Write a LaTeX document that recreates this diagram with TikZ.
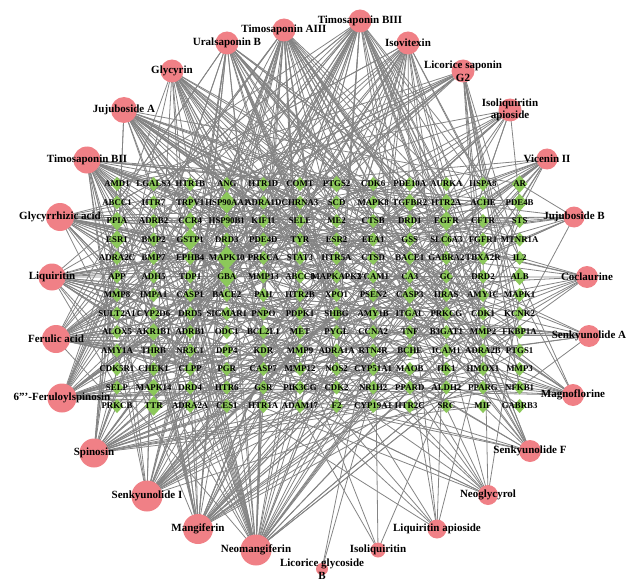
\documentclass[tikz,border=0pt]{standalone}
\usepackage{fontspec}
\setmainfont{Liberation Serif}
\usetikzlibrary{shapes.geometric}
\pgfdeclarelayer{bg}
\pgfdeclarelayer{fg}
\pgfsetlayers{bg,main,fg}
\definecolor{edgegray}{RGB}{132,132,132}
\definecolor{cpink}{RGB}{240,128,134}
\definecolor{tgreen}{RGB}{140,200,90}
\begin{document}
\begin{tikzpicture}[x=1pt,y=-1pt,
  target/.style={diamond, fill=tgreen, draw=none, inner sep=0pt, minimum width=#1, minimum height=#1*1.1},
  target/.default=13pt,
  tlabel/.style={font=\bfseries\fontsize{8.8}{9}\selectfont, text=black, inner sep=0pt},
  compound/.style={circle, fill=cpink, draw=none, inner sep=0pt, minimum size=#1},
  clabel/.style={font=\bfseries\fontsize{11}{12.5}\selectfont, text=black, align=center, inner sep=0pt},
  edge/.style={draw=edgegray, line width=0.8pt}]
\useasboundingbox (0,0) rectangle (637,583);
% targets
\foreach \row [count=\r] in {
 {AMD1,LGALS3,HTR1B,ANG,HTR1D,COMT,PTGS2,CDK6,PDE10A,AURKA,HSPA8,AR},
 {ABCC1,HTR7,TRPV1,HSP90AA1,ADRA1D,CHRNA3,SCD,MAPK8,TGFBR2,HTR2A,ACHE,PDE4B},
 {PPIA,ADRB2,CCR4,HSP90B1,KIF11,SELE,ME2,CTSB,DRD1,EGFR,CFTR,STS},
 {ESR1,BMP2,GSTP1,DRD3,PDE4D,TYR,ESR2,EEA1,GSS,SLC6A3,FGFR1,MTNR1A},
 {ADRA2C,BMP7,EPHB4,MAPK10,PRKCA,STAT3,HTR5A,CTSD,BACE1,GABRA2,TBXA2R,IL2},
 {APP,ADH5,TDP1,GBA,MMP13,ABCC8,MAPKAPK2,VCAM1,CA3,GC,DRD2,ALB},
 {MMP8,IMPA1,CASP1,BACE2,PAH,HTR2B,XPO1,PSEN2,CASP3,HRAS,AMY1C,MAPK1},
 {SULT2A1,CYP2D6,DRD5,SIGMAR1,PNPO,PDPK1,SHBG,AMY1B,ITGAL,PRKCG,CDK1,KCNK2},
 {ALOX5,AKR1B1,ADRB1,ODC1,BCL2L1,MET,PYGL,CCNA2,TNF,B3GAT1,MMP2,FKBP1A},
 {AMY1A,THRB,NR3C1,DPP4,KDR,MMP9,ADRA1A,RTN4R,BCHE,ICAM1,ADRA2B,PTGS1},
 {CDK5R1,CHEK1,CLPP,PGR,CASP7,MMP12,NOS2,CYP51A1,MAOB,HK1,HMOX1,MMP3},
 {SELP,MAPK14,DRD4,HTR6,GSR,PIK3CG,CDK2,NR1H2,PPARD,ALDH2,PPARG,NFKB1},
 {PRKCB,TTR,ADRA2A,CES1,HTR1A,ADAM17,F2,CYP19A1,HTR2C,SRC,MIF,GABRB3}} {
  \foreach \g [count=\c] in \row {
    \pgfmathtruncatemacro{\n}{(\r-1)*12+\c}
    \node[target, alias=t\n] (\g) at ({117+(\c-1)*36.6},{184+(\r-1)*18.5}) {};
    \begin{pgfonlayer}{fg}
      \node[tlabel] (l\g) at (\g) {\g};
    \end{pgfonlayer}
  }
}
% larger targets
\foreach \g/\s in {HSP90AA1/20pt,GSTP1/20pt,MAPK10/22pt,GBA/20pt,ESR1/17pt,PPIA/17pt,TTR/18pt,EGFR/18pt,PDE4B/16pt,HTR2A/16pt,AR/16pt,MAPK14/16pt,AKR1B1/16pt,CASP3/16pt,ALB/16pt,CCR4/16pt,TGFBR2/16pt,PTGS2/15pt} {
  \node[target=\s] (big\g) at (\g) {};
}
% compounds
\foreach \i/\x/\y/\s/\txt in {
 1/360/21/23/{Timosaponin BIII},
 2/284/30/23/{Timosaponin AIII},
 3/227/43/23/{Uralsaponin B},
 4/172/71/23/{Glycyrin},
 5/124/110/26/{Jujuboside A},
 6/408/43/23/{Isovitexin},
 7/463/71/23/{Licorice saponin\\G2},
 8/510/110/23/{Isoliquiritin\\apioside},
 9/87/160/27/{Timosaponin BII},
 10/60/217/28/{Glycyrrhizic acid},
 11/52/277/27/{Liquiritin},
 12/56/339/28/{Ferulic acid},
 13/62/398/29/{6'''-Feruloylspinosin},
 14/94/453/29/{Spinosin},
 15/147/496/31/{Senkyunolide I},
 16/198/529/30/{Mangiferin},
 17/256/550/31/{Neomangiferin},
 18/322/569/12/{Licorice glycoside\\B},
 19/378/550/15/{Isoliquiritin},
 20/437/529/19/{Liquiritin apioside},
 21/488/495/20/{Neoglycyrol},
 22/530/451/22/{Senkyunolide F},
 23/573/395/22/{Magnoflorine},
 24/589/336/22/{Senkyunolide A},
 25/587/277/22/{Coclaurine},
 26/574/217/21/{Jujuboside B},
 27/547/159/21/{Vicenin II}} {
  \node[compound=\s pt] (c\i) at (\x,\y) {};
  \begin{pgfonlayer}{fg}
    \node[clabel] (cl\i) at (c\i) {\txt};
  \end{pgfonlayer}
}
% edges
\begin{pgfonlayer}{bg}
\pgfmathsetseed{4242}
\foreach \ci/\d in {1/42,2/42,3/32,4/28,5/36,6/28,7/22,8/14,9/36,10/32,11/32,12/36,13/36,14/36,15/32,16/36,17/44,18/2,19/4,20/8,21/12,22/14,23/14,24/12,25/12,26/12,27/16} {
  \foreach \k in {1,...,\d} {
    \pgfmathrandominteger{\tg}{1}{156}
    \draw[edge] (c\ci.center) -- (t\tg.center);
  }
}
\end{pgfonlayer}
\end{tikzpicture}
\end{document}
